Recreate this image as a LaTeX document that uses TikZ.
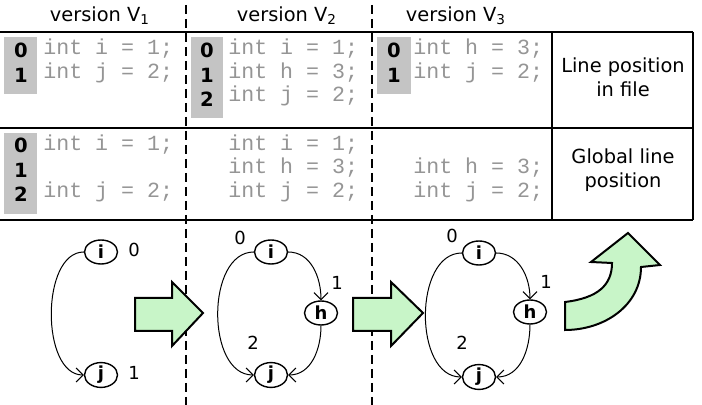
\documentclass[tikz,border=0pt]{standalone}
\usepackage{fontspec}
\setmainfont{DejaVu Sans}
\newfontfamily\codefont{Liberation Mono}
\usetikzlibrary{shapes.geometric,arrows.meta}
\definecolor{boxgray}{HTML}{C4C4C4}
\definecolor{codegray}{HTML}{959595}
\definecolor{arrowgreen}{HTML}{C8F5C8}
\tikzset{
  code/.style={anchor=base west, inner sep=0pt, text=codegray, font=\codefont\fontsize{10.8}{12}\selectfont},
  linenum/.style={anchor=base, inner sep=0pt, font=\bfseries\fontsize{9.8}{11}\selectfont},
  vnode/.style={draw, ellipse, line width=0.7pt, inner sep=0pt, minimum width=16.5pt, minimum height=12pt, font=\bfseries\fontsize{9}{10}\selectfont},
  posnum/.style={inner sep=0pt, font=\fontsize{9}{10}\selectfont},
  hdr/.style={font=\fontsize{9.7}{12}\selectfont},
  tabline/.style={line width=1pt},
  sepline/.style={line width=1.1pt, dash pattern=on 4.5pt off 2.5pt},
  flow/.style={line width=0.5pt, -{Straight Barb[length=3.5pt,width=7pt]}},
  bigarrow/.style={draw, fill=arrowgreen, line width=1pt, line join=miter}
}
\begin{document}
\begin{tikzpicture}[x=0.5pt,y=-0.5pt]
    \useasboundingbox (0,0) rectangle (702,405);
    % headers
    \node[hdr] (h1) at (100,16) {version V\textsubscript{1}};
    \node[hdr] (h2) at (287,16) {version V\textsubscript{2}};
    \node[hdr] (h3) at (456,16) {version V\textsubscript{3}};

    % line numbers
    \fill[boxgray] (4,37) rectangle (37,94);
    \fill[boxgray] (191,37) rectangle (223,118);
    \fill[boxgray] (377,37) rectangle (411,94);
    \fill[boxgray] (4,133) rectangle (37,214);
    \foreach \n/\y in {0/58,1/82.5} {
        \node[linenum] (nA\n) at (21,\y) {\n};
        \node[linenum] (nC\n) at (394,\y) {\n};
      }
    \foreach \n/\y in {0/58,1/82.5,2/107} {
        \node[linenum] (nB\n) at (207,\y) {\n};
      }
    \foreach \n/\y in {0/153,1/177.5,2/202} {
        \node[linenum] (nG\n) at (21,\y) {\n};
      }

    % code, line position in file
    \node[code] (cA1) at (43,55) {int i = 1;};
    \node[code] (cA2) at (43,78.5) {int j = 2;};
    \node[code] (cB1) at (228,55) {int i = 1;};
    \node[code] (cB2) at (228,78.5) {int h = 3;};
    \node[code] (cB3) at (228,102) {int j = 2;};
    \node[code] (cC1) at (413,55) {int h = 3;};
    \node[code] (cC2) at (413,78.5) {int j = 2;};

    % code, global line position
    \node[code] (gA1) at (43,151) {int i = 1;};
    \node[code] (gA3) at (43,197.5) {int j = 2;};
    \node[code] (gB1) at (228,151) {int i = 1;};
    \node[code] (gB2) at (228,174) {int h = 3;};
    \node[code] (gB3) at (228,197.5) {int j = 2;};
    \node[code] (gC2) at (413,174) {int h = 3;};
    \node[code] (gC3) at (413,197.5) {int j = 2;};

    \node[hdr, align=center] (rfile) at (623,77) {Line position\\in file};
    \node[hdr, align=center] (rglob) at (623,170) {Global line\\position};

    % table
    \draw[tabline] (0,32) -- (693,32) (0,128) -- (693,128) (0,220) -- (693,220);
    \draw[tabline] (552,32) -- (552,220) (693,32) -- (693,220);
    \draw[sepline] (186,5) -- (186,405);
    \draw[sepline] (372,5) -- (372,405);

    % graph of version V1
    \node[vnode] (i1) at (101,252) {i};
    \node[vnode] (j1) at (101,375) {j};
    \node[posnum] (p10) at (134,250) {0};
    \node[posnum] (p11) at (134,373) {1};
    \draw[flow] (i1.west) to[out=180,in=180,looseness=0.9] (j1.west);

    % graph of version V2
    \node[vnode] (i2) at (271,252) {i};
    \node[vnode] (h2) at (321,313) {h};
    \node[vnode] (j2) at (271,375) {j};
    \node[posnum] (p20) at (240,238) {0};
    \node[posnum] (p21) at (337,283) {1};
    \node[posnum] (p22) at (253,343) {2};
    \draw[flow] (i2.west) to[out=180,in=180] (j2.west);
    \draw[flow] (i2.east) to[out=0,in=90] (h2.north);
    \draw[flow] (h2.south) to[out=270,in=0] (j2.east);

    % graph of version V3
    \node[vnode] (i3) at (479,253) {i};
    \node[vnode] (h3) at (530,312) {h};
    \node[vnode] (j3) at (479,377) {j};
    \node[posnum] (p30) at (452,236) {0};
    \node[posnum] (p31) at (546,282) {1};
    \node[posnum] (p32) at (462,343) {2};
    \draw[flow] (i3.west) to[out=180,in=180] (j3.west);
    \draw[flow] (i3.east) to[out=0,in=90] (h3.north);
    \draw[flow] (h3.south) to[out=270,in=0] (j3.east);

    % block arrows
    \foreach \a/\b/\c in {135/172/203,353/391/423} {
        \draw[bigarrow] (\a,298) -- (\b,298) -- (\b,282) -- (\c,313) -- (\b,346) -- (\b,331) -- (\a,331) -- cycle;
      }
    \draw[bigarrow] (565,302) .. controls (598,298) and (612,285) .. (612,263)
      -- (591,262) -- (628,233) -- (660,265) -- (641,267)
      .. controls (641,305) and (605,330) .. (565,330) -- cycle;
  \end{tikzpicture}
\end{document}
